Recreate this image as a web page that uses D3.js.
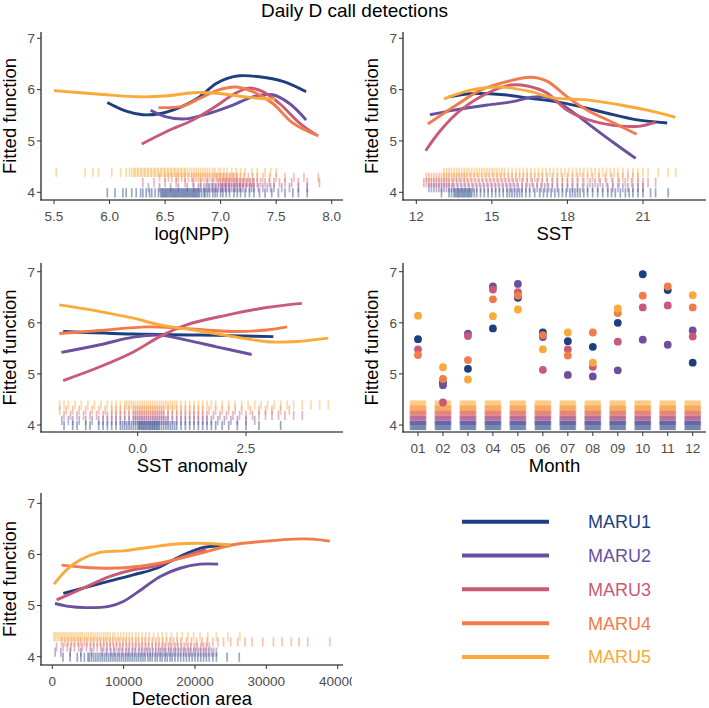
<!DOCTYPE html>
<html><head><meta charset="utf-8">
<script src="https://cdn.jsdelivr.net/npm/d3@7"></script>
<style>body{margin:0;background:#fff} text{font-family:"Liberation Sans",Arial,sans-serif}</style>
</head><body><svg id="c" width="709" height="708"></svg>
<script>
// ---------------- DATA ----------------
const seriesNames = ["MARU1","MARU2","MARU3","MARU4","MARU5"];
const seriesColors = ["#1d3f80","#6a509e","#c95a77","#f27b4b","#f9aa3a"];

// Smooth fitted functions: [x, fitted]
const nppCurves = [
  [[5.98,5.75],[6.15,5.58],[6.30,5.51],[6.45,5.53],[6.57,5.60],[6.70,5.72],[6.81,5.86],[6.96,6.12],[7.06,6.22],[7.17,6.27],[7.35,6.25],[7.56,6.16],[7.77,5.96]],
  [[6.37,5.60],[6.51,5.47],[6.69,5.43],[6.90,5.54],[7.11,5.70],[7.29,5.86],[7.47,5.90],[7.62,5.73],[7.77,5.41]],
  [[6.29,4.94],[6.51,5.18],[6.75,5.41],[6.96,5.68],[7.11,5.90],[7.25,6.03],[7.38,5.96],[7.53,5.73],[7.71,5.35],[7.86,5.12]],
  [[6.44,5.65],[6.66,5.68],[6.81,5.83],[6.99,6.00],[7.14,6.05],[7.29,5.96],[7.47,5.73],[7.65,5.35],[7.88,5.10]],
  [[5.50,5.98],[5.91,5.91],[6.27,5.86],[6.53,5.88],[6.75,5.94],[6.96,5.93],[7.26,5.85],[7.49,5.81]]
];
const sstCurves = [
  [[13.30,5.86],[14.16,5.92],[15.48,5.90],[16.54,5.83],[17.46,5.77],[18.52,5.67],[19.58,5.54],[20.77,5.41],[21.96,5.35]],
  [[12.54,5.51],[13.50,5.60],[14.82,5.70],[15.88,5.77],[16.54,5.85],[17.20,5.85],[17.99,5.64],[19.05,5.25],[19.85,4.96],[20.71,4.66]],
  [[12.37,4.81],[12.97,5.21],[13.76,5.60],[14.82,5.93],[15.75,6.09],[16.41,6.07],[17.20,5.93],[17.99,5.60],[19.05,5.38],[20.11,5.29],[20.90,5.29],[21.50,5.36]],
  [[12.46,5.33],[13.50,5.67],[14.55,5.99],[15.48,6.14],[16.54,6.24],[17.20,6.16],[17.99,5.86],[18.79,5.60],[19.85,5.35],[20.75,5.13]],
  [[13.10,5.82],[14.16,5.99],[15.35,6.05],[16.54,5.96],[17.46,5.84],[18.79,5.80],[20.11,5.70],[21.17,5.60],[22.29,5.46]]
];
const anomCurves = [
  [[-1.72,5.83],[-0.10,5.78],[1.44,5.76],[3.13,5.73]],
  [[-1.76,5.42],[-0.87,5.57],[-0.10,5.72],[0.51,5.76],[1.13,5.66],[1.82,5.53],[2.63,5.38]],
  [[-1.72,4.87],[-0.87,5.14],[-0.10,5.43],[0.51,5.73],[1.13,5.96],[2.06,6.15],[2.98,6.30],[3.79,6.38]],
  [[-1.81,5.79],[-0.87,5.85],[0.21,5.92],[1.05,5.89],[2.21,5.83],[2.98,5.86],[3.45,5.92]],
  [[-1.81,6.35],[-0.87,6.22],[-0.10,6.09],[0.51,5.96],[1.28,5.86],[2.21,5.73],[2.98,5.63],[3.59,5.63],[4.40,5.70]]
];
const areaCurves = [
  [[1540,5.24],[6680,5.43],[11345,5.60],[14620,5.73],[17885,5.96],[20690,6.12],[23490,6.17],[24890,6.17]],
  [[380,5.04],[2010,4.99],[4820,4.96],[8080,4.99],[9945,5.08],[12745,5.34],[15130,5.57],[17885,5.73],[20690,5.81],[23250,5.81]],
  [[610,5.11],[4340,5.34],[8080,5.57],[11345,5.70],[14145,5.76],[16945,5.89],[19750,6.02],[21525,6.10]],
  [[1310,5.79],[4340,5.75],[8080,5.73],[12285,5.77],[16020,5.86],[20690,6.02],[25350,6.19],[30025,6.26],[33750,6.30],[36550,6.30],[38890,6.26]],
  [[240,5.42],[2010,5.70],[3880,5.89],[6680,6.04],[9945,6.07],[13685,6.14],[16945,6.20],[20690,6.22],[24890,6.19]]
];

// Month effects (null = not estimated)
const months = ["01","02","03","04","05","06","07","08","09","10","11","12"];
const monthMARU1 = [5.68,4.83,5.10,5.89,6.49,5.81,5.64,5.53,6.00,6.95,6.64,5.22];
const monthMARU2 = [null,4.78,5.79,6.71,6.76,5.72,4.98,4.95,5.07,5.67,5.57,5.85];
const monthMARU3 = [5.48,4.44,5.74,6.65,6.60,5.08,5.48,5.14,5.63,6.30,6.34,5.73];
const monthMARU4 = [5.37,4.90,5.27,6.46,6.53,5.76,5.36,5.81,6.19,6.53,6.71,6.30];
const monthMARU5 = [6.14,5.13,4.89,6.13,6.26,5.48,5.81,5.22,6.28,null,null,6.54];

// Rug (observed covariate values)
const nppRug = [
  [5.98,6.05,6.12,6.15,6.2,6.24,6.28,6.3,6.33,6.36,6.38,6.41,6.44,6.46,6.47,6.48,6.49,6.5,6.51,6.52,6.53,6.54,6.55,6.56,6.57,6.58,6.59,6.6,6.61,6.62,6.63,6.64,6.65,6.66,6.67,6.68,6.69,6.7,6.71,6.72,6.73,6.74,6.75,6.76,6.77,6.78,6.79,6.8,6.81,6.83,6.85,6.86,6.88,6.9,6.93,6.95,6.97,7.0,7.02,7.05,7.08,7.12,7.15,7.18,7.22,7.26,7.3,7.35,7.4,7.46,7.52,7.58,7.65,7.7,7.78],
  [6.35,6.45,6.55,6.62,6.7,6.76,6.8,6.82,6.85,6.87,6.89,6.9,6.92,6.93,6.95,6.96,6.98,7.0,7.01,7.02,7.04,7.05,7.07,7.08,7.1,7.12,7.13,7.15,7.17,7.18,7.2,7.23,7.26,7.28,7.3,7.34,7.38,7.42,7.45,7.48,7.55,7.62,7.7,7.78],
  [6.3,6.4,6.5,6.6,6.68,6.75,6.82,6.88,6.93,6.98,7.0,7.02,7.04,7.05,7.07,7.08,7.1,7.12,7.14,7.15,7.17,7.18,7.2,7.21,7.23,7.24,7.26,7.27,7.29,7.3,7.33,7.36,7.4,7.44,7.48,7.53,7.58,7.64,7.7,7.78,7.89],
  [6.45,6.5,6.53,6.56,6.6,6.62,6.65,6.68,6.71,6.74,6.76,6.78,6.8,6.82,6.84,6.86,6.88,6.9,6.92,6.94,6.96,6.97,6.99,7.0,7.02,7.03,7.05,7.06,7.08,7.09,7.11,7.12,7.14,7.15,7.18,7.21,7.25,7.29,7.33,7.38,7.44,7.5,7.58,7.66,7.75,7.88],
  [5.52,5.78,5.85,5.9,6.02,6.1,6.15,6.18,6.2,6.22,6.23,6.25,6.26,6.28,6.29,6.31,6.32,6.34,6.35,6.37,6.38,6.4,6.41,6.43,6.44,6.46,6.47,6.49,6.5,6.52,6.53,6.55,6.56,6.58,6.59,6.61,6.62,6.64,6.65,6.67,6.68,6.7,6.72,6.74,6.76,6.78,6.8,6.82,6.84,6.86,6.88,6.9,6.93,6.95,6.98,7.0,7.03,7.06,7.1,7.14,7.18,7.22,7.28,7.33,7.4,7.45,7.5]
];
const sstRug = [
  [13.0,13.3,13.4,13.5,13.55,13.6,13.65,13.7,13.75,13.8,13.85,13.9,13.95,14.0,14.05,14.1,14.15,14.2,14.3,14.4,14.55,14.7,14.85,15.0,15.15,15.3,15.45,15.6,15.7,15.8,15.9,16.0,16.1,16.2,16.35,16.5,16.7,16.9,17.05,17.2,17.35,17.5,17.65,17.8,17.95,18.1,18.2,18.3,18.4,18.5,18.65,18.8,19.0,19.2,19.4,19.6,19.75,19.9,20.1,20.3,20.45,20.6,20.8,21.0,21.3,21.5,22.0],
  [12.5,12.6,12.7,12.8,12.9,13.0,13.1,13.2,13.3,13.4,13.5,13.65,13.8,13.95,14.1,14.25,14.4,14.55,14.7,14.85,15.0,15.15,15.3,15.45,15.6,15.75,15.9,16.05,16.2,16.35,16.5,16.65,16.8,16.95,17.1,17.25,17.4,17.6,17.8,18.0,18.2,18.4,18.6,18.8,19.0,19.2,19.4,19.6,19.8,20.0,20.2,20.4,20.6,20.8,21.0],
  [12.3,12.4,12.5,12.6,12.7,12.8,12.9,13.0,13.1,13.2,13.3,13.45,13.6,13.75,13.9,14.05,14.2,14.35,14.5,14.65,14.8,14.95,15.1,15.25,15.4,15.55,15.7,15.85,16.0,16.2,16.4,16.6,16.8,17.0,17.2,17.4,17.6,17.8,18.0,18.2,18.4,18.65,18.9,19.1,19.3,19.55,19.8,20.05,20.3,20.55,20.8,21.0,21.2,21.5],
  [12.4,12.5,12.6,12.7,12.8,12.9,13.0,13.1,13.2,13.3,13.4,13.5,13.6,13.7,13.8,13.9,14.0,14.15,14.3,14.45,14.6,14.75,14.9,15.05,15.2,15.35,15.5,15.65,15.8,15.95,16.1,16.25,16.4,16.55,16.7,16.85,17.0,17.2,17.4,17.6,17.8,18.0,18.2,18.4,18.6,18.8,19.0,19.25,19.5,19.75,20.0,20.2,20.4,20.6,20.8],
  [13.1,13.2,13.3,13.4,13.5,13.6,13.7,13.8,13.9,14.0,14.1,14.2,14.3,14.4,14.5,14.6,14.7,14.8,14.9,15.0,15.1,15.2,15.3,15.4,15.5,15.65,15.8,15.95,16.1,16.25,16.4,16.55,16.7,16.85,17.0,17.15,17.3,17.45,17.6,17.75,17.9,18.05,18.2,18.35,18.5,18.65,18.8,18.95,19.1,19.25,19.4,19.55,19.7,19.85,20.0,20.2,20.4,20.6,20.8,21.0,21.2,21.6,22.0,22.3]
];
const anomRug = [
  [-1.7,-1.5,-1.4,-1.2,-1.1,-0.9,-0.8,-0.7,-0.6,-0.5,-0.4,-0.35,-0.3,-0.25,-0.2,-0.15,-0.1,-0.05,0.0,0.03,0.05,0.08,0.1,0.13,0.15,0.18,0.2,0.23,0.25,0.28,0.3,0.33,0.35,0.38,0.4,0.43,0.45,0.48,0.5,0.55,0.6,0.65,0.7,0.75,0.8,0.85,0.9,1.0,1.1,1.2,1.3,1.4,1.5,1.6,1.7,1.8,1.95,2.1,2.3,2.5,2.8,3.3],
  [-1.75,-1.6,-1.5,-1.35,-1.2,-1.05,-0.9,-0.8,-0.7,-0.6,-0.5,-0.4,-0.3,-0.2,-0.1,-0.05,0.0,0.05,0.1,0.15,0.2,0.25,0.3,0.35,0.4,0.45,0.5,0.55,0.6,0.65,0.7,0.8,0.9,1.0,1.1,1.2,1.3,1.4,1.5,1.6,1.7,1.85,2.0,2.15,2.3,2.5,2.7],
  [-1.7,-1.55,-1.4,-1.25,-1.1,-0.95,-0.8,-0.7,-0.6,-0.5,-0.4,-0.3,-0.2,-0.1,-0.05,0.0,0.05,0.1,0.15,0.2,0.25,0.3,0.35,0.4,0.45,0.5,0.55,0.6,0.7,0.8,0.9,1.0,1.1,1.2,1.3,1.4,1.5,1.6,1.75,1.9,2.05,2.2,2.35,2.5,2.65,2.8,2.95,3.1,3.25,3.4,3.6,3.8],
  [-1.8,-1.65,-1.5,-1.35,-1.2,-1.05,-0.9,-0.75,-0.6,-0.5,-0.4,-0.3,-0.2,-0.1,-0.05,0.0,0.05,0.1,0.15,0.2,0.25,0.3,0.35,0.4,0.45,0.5,0.55,0.6,0.7,0.8,0.9,1.0,1.1,1.2,1.3,1.4,1.5,1.65,1.8,1.95,2.1,2.25,2.4,2.6,2.8,2.95,3.1,3.3,3.5],
  [-1.8,-1.7,-1.6,-1.45,-1.3,-1.15,-1.0,-0.85,-0.7,-0.6,-0.5,-0.4,-0.3,-0.25,-0.2,-0.15,-0.1,-0.05,0.0,0.05,0.1,0.15,0.2,0.25,0.3,0.35,0.4,0.45,0.5,0.55,0.6,0.65,0.7,0.75,0.8,0.85,0.9,1.0,1.1,1.2,1.3,1.4,1.5,1.6,1.7,1.8,1.95,2.1,2.25,2.4,2.55,2.7,2.85,3.0,3.15,3.3,3.45,3.6,3.8,4.0,4.2,4.4]
];
const areaRug = [
  [1500,2500,3500,4000,4500,5000,5200,5500,5800,6100,6400,6700,7000,7300,7600,7900,8200,8500,8800,9100,9400,9700,10000,10300,10600,10900,11200,11500,11800,12100,12400,12700,13000,13400,13700,14000,14400,14700,15100,15400,15800,16100,16500,16800,17200,17600,18000,18400,18800,19200,19600,20000,20400,20800,21200,21600,22000,22500,23000,24500,26200],
  [400,1200,2500,4000,5500,7000,7600,8200,8700,9300,9800,10300,10700,11200,11600,12100,12500,12900,13300,13700,14100,14500,14900,15200,15600,15900,16300,16600,17000,17300,17700,18000,18400,18700,19100,19400,19800,20100,20500,20800,21200,21500,21900,22300,22600,23000],
  [600,1500,2100,2600,3100,3700,4200,4800,5300,5800,6300,6800,7200,7700,8100,8600,9000,9500,9900,10400,10800,11300,11700,12200,12600,13100,13500,14000,14500,14900,15400,15800,16300,16700,17200,17600,18100,18500,19000,19400,19900,20300,20800,21200,21600,22000],
  [1300,1800,2200,2700,3100,3600,4000,4500,4900,5400,5800,6300,6700,7200,7600,8100,8500,9000,9400,9900,10300,10800,11200,11700,12100,12600,13000,13500,14000,14500,15000,15500,16000,16500,17000,17500,18000,18800,19500,20200,21000,21700,22500,23200,24000,25000,26000,27000,28000,29500,31000,32200,33500,34600,35800,38900],
  [240,450,700,950,1200,1450,1700,1950,2200,2450,2700,2950,3200,3450,3700,3950,4200,4500,4800,5100,5400,5700,6000,6300,6600,6900,7200,7500,7800,8100,8500,8800,9200,9600,10000,10400,10800,11200,11700,12100,12600,13100,13600,14200,14800,15400,16000,16700,17500,18200,19000,19800,20700,21800,23000,24600,26300]
];
const monthRugJitter = [-0.3,-0.26,-0.22,-0.18,-0.14,-0.1,-0.06,-0.02,0.02,0.06,0.1,0.14,0.18,0.22,0.26,0.3];

const yTicks = [4,5,6,7];
const nppTicks = [5.5,6.0,6.5,7.0,7.5,8.0];
const sstTicks = [12,15,18,21];
const anomTicks = [0,2.5];
const areaTicks = [0,10000,20000,30000,40000];

// ---------------- DRAWING ----------------
const svg = d3.select("#c");
const tickCol = "#4d4d4d";

svg.append("text").attr("x",354.5).attr("y",17).attr("text-anchor","middle")
  .attr("font-size",19).attr("fill","#000").text("Daily D call detections");

function makePanel(o){
  const g = svg.append("g");
  if(o.clip){
    const id="clip"+Math.round(o.top);
    svg.append("clipPath").attr("id",id).append("rect").attr("x",0).attr("y",o.top-10).attr("width",o.clip).attr("height",260);
    g.attr("clip-path",`url(#${id})`);
  }
  const y = d3.scaleLinear().domain([4,7]).range([o.y4,o.y7]);
  const rugLo = i=>3.9+0.1*i, rugHi = i=>4.08+0.1*i;
  o.rug.forEach((vals,i)=>{
    g.append("g").selectAll("line").data(vals).join("line")
      .attr("x1",d=>o.x(d)).attr("x2",d=>o.x(d))
      .attr("y1",y(rugLo(i))).attr("y2",y(rugHi(i)))
      .attr("stroke",seriesColors[i]).attr("stroke-opacity",0.45).attr("stroke-width",1.7);
  });
  if(o.curves){
    const line = d3.line().x(d=>o.x(d[0])).y(d=>y(d[1])).curve(d3.curveCatmullRom.alpha(0.5));
    o.curves.forEach((c,i)=>{
      g.append("path").attr("d",line(c)).attr("fill","none")
        .attr("stroke",seriesColors[i]).attr("stroke-width",2.9);
    });
  }
  if(o.points){
    o.points.forEach((vals,i)=>{
      g.append("g").selectAll("circle").data(vals.map((v,k)=>[k+1,v]).filter(d=>d[1]!==null)).join("circle")
        .attr("cx",d=>o.x(d[0])).attr("cy",d=>y(d[1])).attr("r",3.9).attr("fill",seriesColors[i]);
    });
  }
  g.append("line").attr("x1",o.left).attr("x2",o.left).attr("y1",o.top).attr("y2",o.bottom+0.5)
    .attr("stroke","#000").attr("stroke-width",1.1);
  g.append("line").attr("x1",o.left-0.5).attr("x2",o.right).attr("y1",o.bottom).attr("y2",o.bottom)
    .attr("stroke","#000").attr("stroke-width",1.1);
  const yt = g.append("g");
  yTicks.forEach(t=>{
    yt.append("line").attr("x1",o.left-4).attr("x2",o.left).attr("y1",y(t)).attr("y2",y(t)).attr("stroke","#333");
    yt.append("text").attr("x",o.left-6).attr("y",y(t)).attr("dy","0.36em").attr("text-anchor","end")
      .attr("font-size",13.5).attr("fill",tickCol).text(t);
  });
  const xt = g.append("g");
  o.xticks.forEach((t,k)=>{
    const px=o.x(t);
    xt.append("line").attr("x1",px).attr("x2",px).attr("y1",o.bottom).attr("y2",o.bottom+4).attr("stroke","#333");
    xt.append("text").attr("x",px).attr("y",o.bottom+21).attr("text-anchor","middle")
      .attr("font-size",13.5).attr("fill",tickCol).text(o.xlabels?o.xlabels[k]:o.fmt(t));
  });
  g.append("text").attr("x",(o.left+o.right)/2).attr("y",o.bottom+40).attr("text-anchor","middle")
    .attr("font-size",18.5).attr("fill","#000").text(o.xtitle);
  g.append("text").attr("transform",`translate(${o.left-25},${(o.top+o.bottom)/2}) rotate(-90)`)
    .attr("text-anchor","middle").attr("font-size",18.5).attr("fill","#000").text("Fitted function");
}

const xNPP = d3.scaleLinear().domain([5.5,8]).range([54,331.7]);
const xSST = d3.scaleLinear().domain([12,21]).range([416.3,643]);
const xAnom = d3.scaleLinear().domain([0,2.5]).range([137.7,246]);
const xMonth = d3.scaleLinear().domain([1,12]).range([418,692.7]);
const xArea = d3.scaleLinear().domain([0,40000]).range([52.3,337.7]);

makePanel({left:41,right:343,top:32,bottom:200,y4:192.3,y7:38.3,x:xNPP,xticks:nppTicks,fmt:d3.format(".1f"),
  xtitle:"log(NPP)",curves:nppCurves,rug:nppRug});
makePanel({left:403,right:706,top:32,bottom:200,y4:192.3,y7:38.3,x:xSST,xticks:sstTicks,fmt:d3.format("d"),
  xtitle:"SST",curves:sstCurves,rug:sstRug});
makePanel({left:41,right:343,top:263,bottom:432,y4:425,y7:271.7,x:xAnom,xticks:anomTicks,fmt:d3.format(".1f"),
  xtitle:"SST anomaly",curves:anomCurves,rug:anomRug});
const monthRug = seriesNames.map(()=>months.flatMap((m,k)=>monthRugJitter.map(j=>k+1+j)));
makePanel({left:403,right:706,top:263,bottom:432,y4:425,y7:271.7,x:xMonth,xticks:months.map((m,k)=>k+1),xlabels:months,
  xtitle:"Month",points:[monthMARU1,monthMARU2,monthMARU3,monthMARU4,monthMARU5],rug:monthRug});
makePanel({left:41,right:343,top:493,bottom:665,y4:656.7,y7:503.3,x:xArea,xticks:areaTicks,fmt:d3.format("d"),
  xtitle:"Detection area",curves:areaCurves,rug:areaRug,clip:352});

const legY = d3.scalePoint().domain(seriesNames).range([521.7,657]);
const leg = svg.append("g");
seriesNames.forEach((s,i)=>{
  leg.append("line").attr("x1",462).attr("x2",549).attr("y1",legY(s)).attr("y2",legY(s))
    .attr("stroke",seriesColors[i]).attr("stroke-width",4);
  leg.append("text").attr("x",588).attr("y",legY(s)).attr("dy","0.36em").attr("font-size",18)
    .attr("fill",seriesColors[i]).text(s);
});
</script></body></html>
